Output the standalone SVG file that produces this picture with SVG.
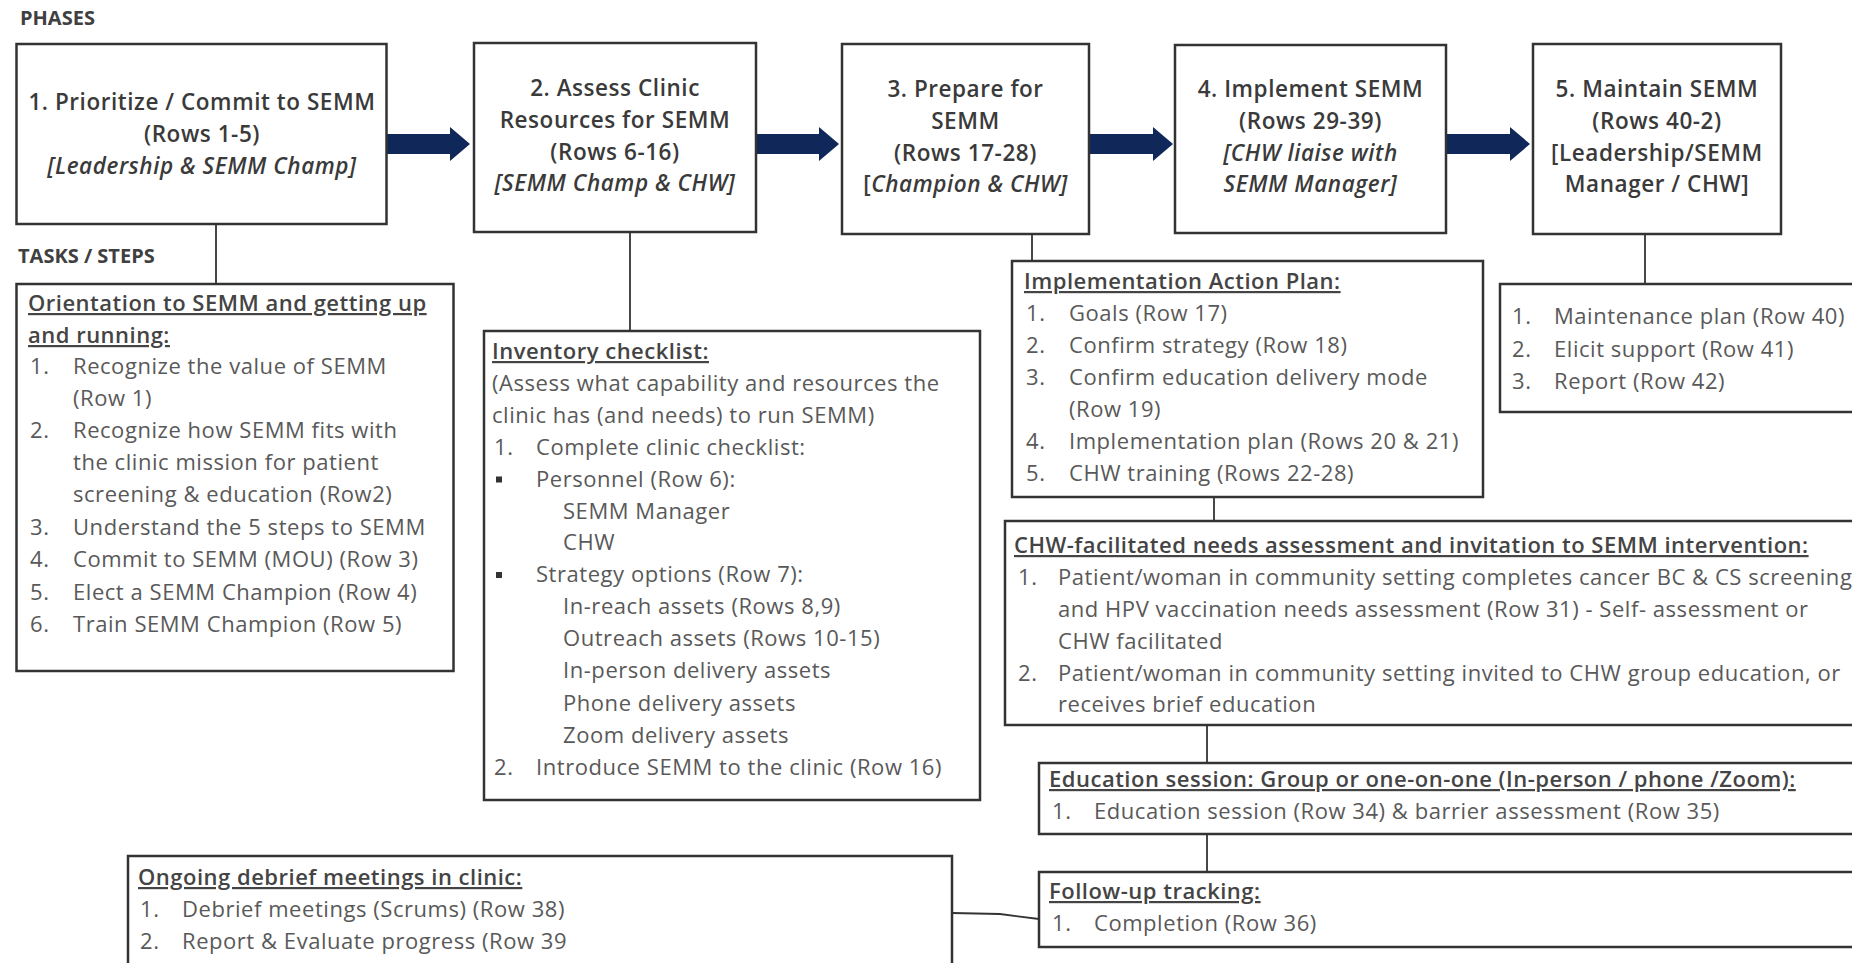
<svg xmlns="http://www.w3.org/2000/svg" width="1852" height="963" viewBox="0 0 1852 963">
<defs>
<style>
.bg{fill:#ffffff}
.box{fill:#ffffff;stroke:#333333;stroke-width:2.5}
.con{fill:none;stroke:#333333;stroke-width:1.8}
.arr{fill:#10275a}
text{font-family:"Open Sans","Liberation Sans",sans-serif}
.lbl{font-size:20px;font-weight:700;fill:#404040}
.ph{font-size:22.5px;font-weight:600;fill:#3a3a3a;text-anchor:middle;letter-spacing:0.55px}
.it{font-style:italic}
.hd{font-size:22px;font-weight:600;fill:#444444;text-decoration:underline;letter-spacing:0.5px}
.tx{font-size:22px;fill:#595959;letter-spacing:0.55px}
</style>
<path id="arrowShape" d="M0,-10 H64 V-17 L84,0 L64,17 V10 H0 Z"/>
</defs>
<rect class="bg" x="0" y="0" width="1852" height="963"/>

<text class="lbl" x="20" y="25">PHASES</text>
<text class="lbl" x="18" y="263">TASKS / STEPS</text>

<g id="connectors">
<use href="#arrowShape" class="arr" x="386" y="144"/>
<use href="#arrowShape" class="arr" x="755" y="144"/>
<use href="#arrowShape" class="arr" x="1089" y="144"/>
<use href="#arrowShape" class="arr" x="1446" y="144"/>
<line class="con" x1="216" y1="224" x2="216" y2="284"/>
<line class="con" x1="630" y1="232" x2="630" y2="331"/>
<line class="con" x1="1032" y1="234" x2="1032" y2="261"/>
<line class="con" x1="1645" y1="234" x2="1645" y2="284"/>
<line class="con" x1="1214" y1="497" x2="1214" y2="521"/>
<line class="con" x1="1207" y1="725" x2="1207" y2="763"/>
<line class="con" x1="1207" y1="834" x2="1207" y2="872"/>
<polyline class="con" points="952,913 1000,914 1039,919"/>
</g>

<g id="phase1">
<rect class="box" x="16.5" y="44" width="370" height="180"/>
<text class="ph" x="202" y="110">1. Prioritize / Commit to SEMM</text>
<text class="ph" x="202" y="142">(Rows 1-5)</text>
<text class="ph it" x="202" y="174">[Leadership &amp; SEMM Champ]</text>
</g>

<g id="phase2">
<rect class="box" x="474" y="43" width="282" height="189"/>
<text class="ph" x="615" y="96">2. Assess Clinic</text>
<text class="ph" x="615" y="128">Resources for SEMM</text>
<text class="ph" x="615" y="160">(Rows 6-16)</text>
<text class="ph it" x="615" y="191">[SEMM Champ &amp; CHW]</text>
</g>

<g id="phase3">
<rect class="box" x="842" y="44" width="247" height="190"/>
<text class="ph" x="965.5" y="97">3. Prepare for</text>
<text class="ph" x="965.5" y="129">SEMM</text>
<text class="ph" x="965.5" y="161">(Rows 17-28)</text>
<text class="ph" x="965.5" y="192">[<tspan class="it">Champion &amp; CHW]</tspan></text>
</g>

<g id="phase4">
<rect class="box" x="1175" y="45" width="271" height="188"/>
<text class="ph" x="1310.5" y="97">4. Implement SEMM</text>
<text class="ph" x="1310.5" y="129">(Rows 29-39)</text>
<text class="ph it" x="1310.5" y="161">[CHW liaise with</text>
<text class="ph it" x="1310.5" y="192">SEMM Manager]</text>
</g>

<g id="phase5">
<rect class="box" x="1533" y="44" width="248" height="190"/>
<text class="ph" x="1657" y="97">5. Maintain SEMM</text>
<text class="ph" x="1657" y="129">(Rows 40-2)</text>
<text class="ph" x="1657" y="161">[Leadership/SEMM</text>
<text class="ph" x="1657" y="192">Manager / CHW]</text>
</g>

<g id="orientation">
<rect class="box" x="16.5" y="284" width="437" height="387"/>
<text class="hd" x="28" y="311">Orientation to SEMM and getting up</text>
<text class="hd" x="28" y="343">and running:</text>
<text class="tx" x="30" y="374">1.</text><text class="tx" x="73" y="374">Recognize the value of SEMM</text>
<text class="tx" x="73" y="406">(Row 1)</text>
<text class="tx" x="30" y="438">2.</text><text class="tx" x="73" y="438">Recognize how SEMM fits with</text>
<text class="tx" x="73" y="470">the clinic mission for patient</text>
<text class="tx" x="73" y="502">screening &amp; education (Row2)</text>
<text class="tx" x="30" y="535">3.</text><text class="tx" x="73" y="535">Understand the 5 steps to SEMM</text>
<text class="tx" x="30" y="567">4.</text><text class="tx" x="73" y="567">Commit to SEMM (MOU) (Row 3)</text>
<text class="tx" x="30" y="600">5.</text><text class="tx" x="73" y="600">Elect a SEMM Champion (Row 4)</text>
<text class="tx" x="30" y="632">6.</text><text class="tx" x="73" y="632">Train SEMM Champion (Row 5)</text>
</g>

<g id="inventory">
<rect class="box" x="484" y="331" width="496" height="469"/>
<text class="hd" x="492" y="359">Inventory checklist:</text>
<text class="tx" x="492" y="391">(Assess what capability and resources the</text>
<text class="tx" x="492" y="423">clinic has (and needs) to run SEMM)</text>
<text class="tx" x="494" y="455">1.</text><text class="tx" x="536" y="455">Complete clinic checklist:</text>
<rect x="496" y="476.5" width="6" height="6" fill="#333"/><text class="tx" x="536" y="487">Personnel (Row 6):</text>
<text class="tx" x="563" y="519">SEMM Manager</text>
<text class="tx" x="563" y="550">CHW</text>
<rect x="496" y="572" width="6" height="6" fill="#333"/><text class="tx" x="536" y="582">Strategy options (Row 7):</text>
<text class="tx" x="563" y="614">In-reach assets (Rows 8,9)</text>
<text class="tx" x="563" y="646">Outreach assets (Rows 10-15)</text>
<text class="tx" x="563" y="678">In-person delivery assets</text>
<text class="tx" x="563" y="711">Phone delivery assets</text>
<text class="tx" x="563" y="743">Zoom delivery assets</text>
<text class="tx" x="494" y="775">2.</text><text class="tx" x="536" y="775">Introduce SEMM to the clinic (Row 16)</text>
</g>

<g id="actionplan">
<rect class="box" x="1012" y="261" width="471" height="236"/>
<text class="hd" x="1024" y="289">Implementation Action Plan:</text>
<text class="tx" x="1026" y="321">1.</text><text class="tx" x="1069" y="321">Goals (Row 17)</text>
<text class="tx" x="1026" y="353">2.</text><text class="tx" x="1069" y="353">Confirm strategy (Row 18)</text>
<text class="tx" x="1026" y="385">3.</text><text class="tx" x="1069" y="385">Confirm education delivery mode</text>
<text class="tx" x="1069" y="417">(Row 19)</text>
<text class="tx" x="1026" y="449">4.</text><text class="tx" x="1069" y="449">Implementation plan (Rows 20 &amp; 21)</text>
<text class="tx" x="1026" y="481">5.</text><text class="tx" x="1069" y="481">CHW training (Rows 22-28)</text>
</g>

<g id="maintain">
<rect class="box" x="1500" y="284" width="370" height="128"/>
<text class="tx" x="1512" y="324">1.</text><text class="tx" x="1554" y="324">Maintenance plan (Row 40)</text>
<text class="tx" x="1512" y="357">2.</text><text class="tx" x="1554" y="357">Elicit support (Row 41)</text>
<text class="tx" x="1512" y="389">3.</text><text class="tx" x="1554" y="389">Report (Row 42)</text>
</g>

<g id="needs">
<rect class="box" x="1005" y="521" width="865" height="204"/>
<text class="hd" x="1014" y="553">CHW-facilitated needs assessment and invitation to SEMM  intervention:</text>
<text class="tx" x="1018" y="585">1.</text><text class="tx" x="1058" y="585">Patient/woman in community setting completes cancer BC &amp; CS screening</text>
<text class="tx" x="1058" y="617">and HPV vaccination needs assessment (Row 31) - Self- assessment or</text>
<text class="tx" x="1058" y="649">CHW facilitated</text>
<text class="tx" x="1018" y="681">2.</text><text class="tx" x="1058" y="681">Patient/woman in community setting invited to CHW group education, or</text>
<text class="tx" x="1058" y="712">receives brief education</text>
</g>

<g id="education">
<rect class="box" x="1039" y="763" width="831" height="71"/>
<text class="hd" x="1049" y="787">Education session: Group or one-on-one (In-person / phone /Zoom):</text>
<text class="tx" x="1052" y="819">1.</text><text class="tx" x="1094" y="819">Education session (Row 34) &amp; barrier assessment (Row 35)</text>
</g>

<g id="followup">
<rect class="box" x="1039" y="872" width="831" height="75"/>
<text class="hd" x="1049" y="899">Follow-up tracking:</text>
<text class="tx" x="1052" y="931">1.</text><text class="tx" x="1094" y="931">Completion (Row 36)</text>
</g>

<g id="debrief">
<rect class="box" x="128" y="856" width="824" height="120"/>
<text class="hd" x="138" y="885">Ongoing debrief meetings in clinic:</text>
<text class="tx" x="140" y="917">1.</text><text class="tx" x="182" y="917">Debrief meetings (Scrums) (Row 38)</text>
<text class="tx" x="140" y="949">2.</text><text class="tx" x="182" y="949">Report &amp; Evaluate progress (Row 39</text>
</g>
</svg>
